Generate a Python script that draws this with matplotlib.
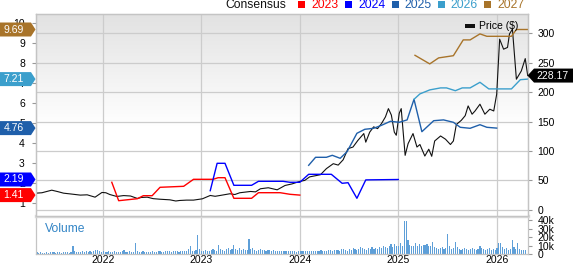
import numpy as np
import matplotlib
matplotlib.use('Agg')
import matplotlib.pyplot as plt
from matplotlib.patches import Polygon, Rectangle
from matplotlib.colors import LinearSegmentedColormap
from matplotlib.transforms import IdentityTransform

plt.rcParams['font.family'] = ['Liberation Sans', 'DejaVu Sans']

W, H = 573, 264

# price (decimal year, $)
price_t = [2021.32, 2021.38, 2021.48, 2021.54, 2021.60, 2021.67, 2021.77, 2021.84, 2021.92, 2021.99,
           2022.03, 2022.07, 2022.14, 2022.21, 2022.28, 2022.35, 2022.39, 2022.45, 2022.51, 2022.58,
           2022.68, 2022.74, 2022.78, 2022.85, 2022.92, 2023.01, 2023.09, 2023.14, 2023.19, 2023.29,
           2023.34, 2023.39, 2023.50, 2023.55, 2023.60, 2023.68, 2023.77, 2023.85, 2023.92, 2024.00,
           2024.05, 2024.10, 2024.16, 2024.21, 2024.27, 2024.34, 2024.39, 2024.44, 2024.49, 2024.54,
           2024.59, 2024.65, 2024.67, 2024.71, 2024.75, 2024.79, 2024.83, 2024.87, 2024.90, 2024.93,
           2024.96, 2024.98, 2025.01, 2025.03, 2025.07, 2025.10, 2025.15, 2025.19, 2025.22, 2025.27,
           2025.31, 2025.34, 2025.37, 2025.43, 2025.48, 2025.53, 2025.56, 2025.59, 2025.64, 2025.68,
           2025.71, 2025.75, 2025.78, 2025.83, 2025.88, 2025.93, 2025.97, 2026.00, 2026.03, 2026.07,
           2026.11, 2026.13, 2026.16, 2026.20, 2026.25, 2026.29, 2026.315]
price_v = [28.3, 29, 33.4, 31, 28.3, 27, 25, 25.5, 21.5, 29.5,
           29, 26, 22.7, 24.2, 23.5, 19.3, 21, 21.5, 19, 18,
           17, 15, 15.9, 16.5, 16.5, 18.7, 24.4, 23, 24.4, 27.3,
           26, 29, 31.2, 30.5, 35.8, 37.5, 34, 41.4, 44, 48.3,
           50, 56, 58, 59.7, 70, 78.4, 76, 85, 104, 106.7,
           118, 129.6, 115, 132, 141, 138, 146.6, 158, 172, 161,
           132, 126.7, 164, 172, 92.6, 112.5, 129.6, 106.7, 111, 91.4,
           103, 91, 117, 125.5, 120, 111, 117, 145, 152, 160,
           176.6, 162.5, 168, 179.5, 162.5, 171, 168, 196.6, 290, 273,
           276, 299, 307, 222, 236, 257, 228.17]

# consensus EPS estimates by fiscal year
eps23_t = [2022.09, 2022.16, 2022.35, 2022.41, 2022.50, 2022.58, 2022.82, 2022.92, 2023.12, 2023.17,
           2023.24, 2023.33, 2023.51, 2023.58, 2023.80, 2023.90, 2024.00]
eps23_v = [2.05, 1.13, 1.23, 1.38, 1.38, 1.8, 1.85, 2.2, 2.2, 2.28,
           2.28, 1.25, 1.25, 1.53, 1.53, 1.45, 1.41]
eps24_t = [2023.09, 2023.16, 2023.24, 2023.33, 2023.51, 2023.58, 2023.83, 2023.90, 2024.00, 2024.09,
           2024.32, 2024.43, 2024.49, 2024.58, 2024.67, 2025.00]
eps24_v = [1.63, 3.0, 3.0, 1.9, 1.9, 2.1, 2.1, 2.05, 2.05, 2.45,
           2.45, 2.0, 2.03, 1.25, 2.17, 2.19]
eps25_t = [2024.09, 2024.16, 2024.27, 2024.33, 2024.41, 2024.48, 2024.58, 2024.66, 2024.75, 2024.83,
           2024.92, 2025.01, 2025.09, 2025.16, 2025.24, 2025.36, 2025.46, 2025.56, 2025.63, 2025.73,
           2025.83, 2025.90, 2026.00]
eps25_v = [2.9, 3.3, 3.3, 3.4, 3.25, 3.58, 4.5, 4.7, 4.75, 4.9,
           5.1, 5.05, 5.17, 6.2, 4.58, 5.13, 5.17, 5.05, 4.8, 4.75,
           4.93, 4.8, 4.76]
eps26_t = [2025.16, 2025.22, 2025.32, 2025.43, 2025.49, 2025.58, 2025.65, 2025.73, 2025.83, 2025.92,
           2026.15, 2026.24, 2026.315]
eps26_v = [6.2, 6.47, 6.67, 6.77, 6.77, 6.63, 6.77, 6.77, 7.05, 6.72,
           6.72, 7.18, 7.21]
eps27_t = [2025.17, 2025.32, 2025.41, 2025.56, 2025.66, 2025.73, 2025.83, 2025.90, 2026.15, 2026.20,
           2026.315]
eps27_v = [8.4, 7.97, 8.27, 8.38, 9.17, 9.17, 9.47, 9.35, 9.35, 9.69, 9.69]

series_labels = ['2023', '2024', '2025', '2026', '2027']
series_colors = ['#FF0000', '#0000FF', '#1F5FAA', '#3B9FCC', '#A8742A']
last_eps = [1.41, 2.19, 4.76, 7.21, 9.69]
last_price = 228.17

# weekly volume, thousands of shares
vol_start = 2021.33
vol_k = [
    2, 1.5, 2, 1.5, 1.5, 2, 1.5, 2, 2.5, 2, 1.5, 2, 2, 1.5, 2, 2.5, 2, 1.5, 2, 9.5, 3, 2.5, 2, 2.5, 3, 2,
    3, 2.5, 3, 2.5, 3.5, 4.5, 5, 3, 2.5, 3, 2.5, 2, 3, 2.5, 2, 3, 2.5, 2, 2.5, 3, 5, 2.5, 2, 3, 2, 2.5,
    13, 3, 2.5, 2, 3, 2.5, 2, 2.5, 2, 3, 2.5, 2, 3, 3, 2.5, 2, 3.5, 4, 3, 2.5, 3, 4, 3, 2.5, 3, 3.5,
    3, 4, 6, 10, 3.5, 4, 5, 23, 6, 4, 3.5, 5, 4, 3.5, 5, 6, 5, 4, 11, 6, 5, 4, 6, 7, 5, 6,
    11, 6, 5, 7, 5, 6, 4.5, 5, 18, 6, 7, 5, 4, 5, 6, 4.5, 5, 4, 5, 4.5, 4, 5, 4, 3.5, 4, 3,
    3.5, 3, 4, 3, 3.5, 4, 3, 2.5, 3, 3, 4, 3, 3.5, 4, 3, 4, 3.5, 4, 3, 4, 5, 4, 3.5, 4, 5, 4.5,
    4, 5, 4.5, 5, 4, 5.5, 6, 5, 4, 6, 5, 7, 6, 5, 6, 8, 7, 6, 5, 7, 6, 8, 6, 7, 6, 8,
    7, 9, 8, 7, 10, 12, 8, 12, 9, 10, 13, 9, 39, 39, 16, 11, 10, 9, 13, 10, 12, 9, 11, 11, 12, 10,
    9, 14, 8, 7, 6, 7, 8, 6, 7, 24, 9, 6, 7, 14, 8, 6, 5, 6, 7, 6, 5, 6, 7, 6, 5, 6,
    10, 7, 6, 5, 6, 7, 5, 6, 5, 7, 13, 13, 8, 6, 7, 5, 6, 17, 8, 6, 13.5, 6, 5, 5, 5,
]

years = [2022, 2023, 2024, 2025, 2026]
eps_ticks = [1, 2, 3, 4, 5, 6, 7, 8, 9, 10]
price_ticks = [0, 50, 100, 150, 200, 250, 300]
vol_ticks = [0, 10, 20, 30, 40]

XMIN, XMAX = 2021.32, 2026.315
GRID = '#CCCCCC'
SPINE = '#C4C4C4'


def fx(x):
    return x / W


def fy(y):
    return 1 - y / H


fig = plt.figure(figsize=(W / 100, H / 100), dpi=100)
ax = fig.add_axes([fx(36), fy(216), (527.7 - 36) / W, (216 - 14) / H])
axp = ax.twinx()
axv = fig.add_axes([fx(36), fy(254), (527.7 - 36) / W, (254 - 216) / H], sharex=ax)

ax.set_zorder(2)
axp.set_zorder(1)
ax.patch.set_visible(False)
axp.patch.set_visible(False)

# gray-to-white background
grad = np.linspace(0, 1, 256).reshape(-1, 1)
cmap = LinearSegmentedColormap.from_list('bg', [(0, '#FFFFFF'), (0.45, '#FFFFFF'), (1, '#E2E2E2')])
axp.imshow(grad, extent=[0, 1, 0, 1], transform=axp.transAxes, origin='lower',
           aspect='auto', cmap=cmap, zorder=0)

ax.set_xlim(XMIN, XMAX)
ax.set_ylim(0.365, 10.465)
axp.set_ylim(-10.5, 332.8)

axp.set_yticks(price_ticks)
axp.grid(axis='y', color=GRID, lw=0.9)
for yr in years:
    axp.axvline(yr, color=GRID, lw=0.9, zorder=0.5)
axp.plot(price_t, price_v, color='#111111', lw=0.8, zorder=3)

eps_t = [eps23_t, eps24_t, eps25_t, eps26_t, eps27_t]
eps_v = [eps23_v, eps24_v, eps25_v, eps26_v, eps27_v]
for t, v, c in zip(eps_t, eps_v, series_colors):
    ax.plot(t, v, color=c, lw=1.0)

ax.set_yticks(eps_ticks)
ax.set_xticks(years)
ax.tick_params(axis='x', length=0, labelbottom=False)
ax.tick_params(axis='y', labelsize=7.5, length=3, color='#999999', pad=5)
axp.tick_params(axis='y', labelsize=7.5, length=3, color='#999999', pad=4)
for a in (ax, axp):
    for s in a.spines.values():
        s.set_color(SPINE)
        s.set_linewidth(0.9)

# volume panel
vol_x = vol_start + np.arange(len(vol_k)) / 52
axv.bar(vol_x, vol_k, width=0.6 / 52, color='#5E9FD8', lw=0)
axv.set_ylim(0, 45)
axv.set_xticks(years)
axv.set_xticklabels([str(y) for y in years])
axv.grid(axis='x', color=GRID, lw=0.9)
axv.set_axisbelow(True)
axv.yaxis.tick_right()
axv.set_yticks(vol_ticks)
axv.set_yticklabels(['0' if v == 0 else f'{v}k' for v in vol_ticks])
axv.tick_params(axis='y', labelsize=7.5, length=3, color='#999999', pad=4)
axv.tick_params(axis='x', labelsize=7.5, length=0, pad=1)
for s in axv.spines.values():
    s.set_color(SPINE)
    s.set_linewidth(0.9)
axv.spines['top'].set_color('#DDDDDD')
axv.spines['top'].set_linewidth(2.5)
axv.text(0.018, 0.66, 'Volume', transform=axv.transAxes, fontsize=8.7,
         color='#3385C6', va='center', ha='left')

# top legend
fig.text(fx(225), fy(5.5), 'Consensus', fontsize=8.7, va='center', ha='left', color='#111111')
sq_x = [298.3, 345, 391.7, 437.7, 484.3]
for lab, c, x0 in zip(series_labels, series_colors, sq_x):
    fig.add_artist(Rectangle((fx(x0), fy(8.4)), 7 / W, 7 / H, transform=fig.transFigure,
                             fc=c, ec='none'))
    fig.text(fx(x0 + 13), fy(5.5), lab, fontsize=8.7, va='center', ha='left', color=c)

# price legend inside plot
fig.add_artist(Rectangle((fx(465), fy(28)), 10 / W, 4 / H, transform=fig.transFigure,
                         fc='#111111', ec='none', zorder=5))
fig.text(fx(479), fy(26), 'Price ($)', fontsize=7.5, va='center', ha='left', zorder=5)

# value tags on the left (EPS) and right (price)
for v, c in zip(last_eps, series_colors):
    y = ax.transData.transform((XMIN, v))[1]
    pts = [(0, y - 7), (31, y - 7), (35.5, y), (31, y + 7), (0, y + 7)]
    fig.add_artist(Polygon(pts, closed=True, fc=c, ec='none',
                           transform=IdentityTransform(), zorder=10))
    fig.text(fx(3.5), y / H, f'{v:.2f}', color='white', fontsize=7.5,
             va='center', ha='left', zorder=11)

y = axp.transData.transform((XMAX, last_price))[1]
pts = [(527.5, y), (534, y + 7), (W + 2, y + 7), (W + 2, y - 7), (534, y - 7)]
fig.add_artist(Polygon(pts, closed=True, fc='black', ec='none',
                       transform=IdentityTransform(), zorder=10))
fig.text(fx(536.5), y / H, f'{last_price:.2f}', color='white', fontsize=7.5,
         va='center', ha='left', zorder=11)

fig.savefig('out.png', dpi=100)
